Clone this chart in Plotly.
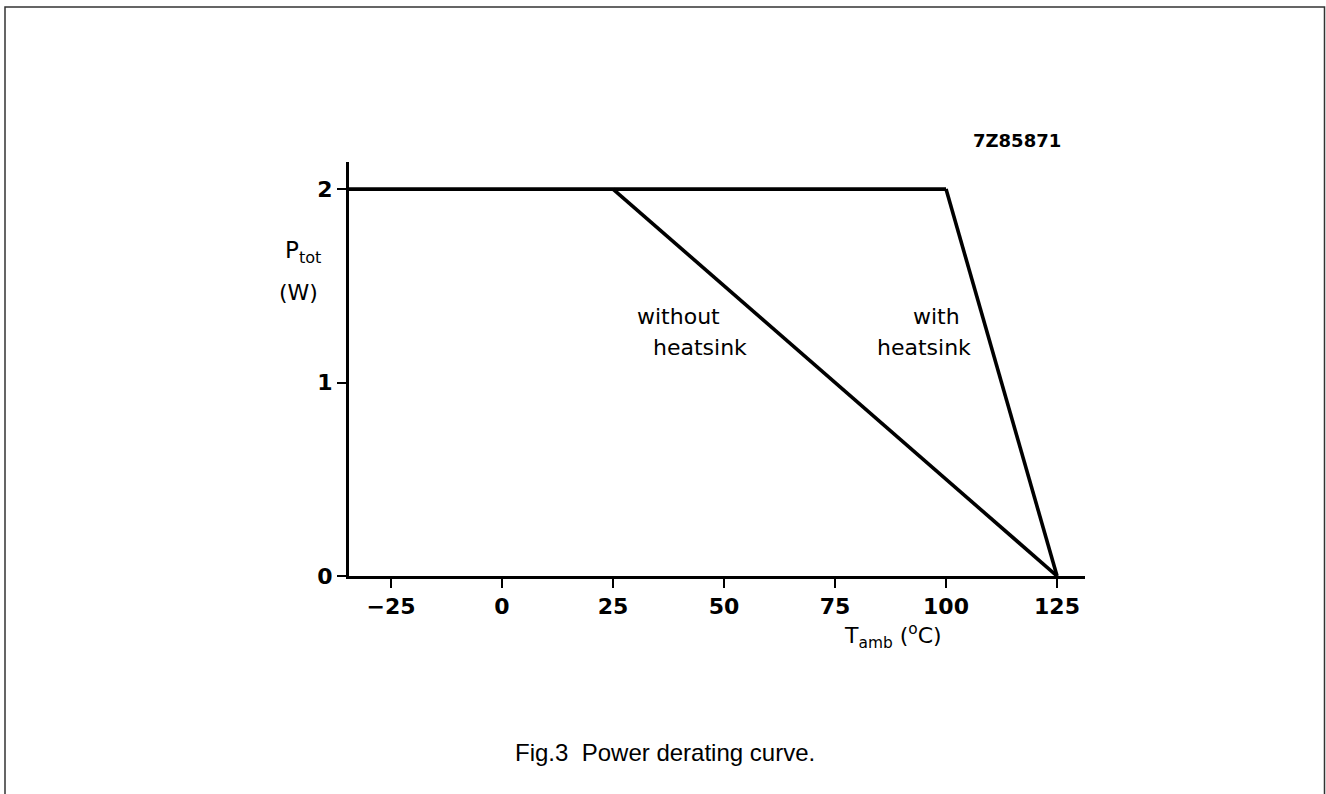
import plotly.graph_objects as go

# ---- data ----
x_ticks = [-25, 0, 25, 50, 75, 100, 125]
y_ticks = [0, 1, 2]
flat_x = [-34.5, 100]
flat_y = [2, 2]
without_x = [25, 125]
without_y = [2, 0]
with_x = [100, 125]
with_y = [2, 0]

W, H = 1326, 794
L, R, T, B = 349, 241, 162, 218
PW, PH = W - L - R, H - T - B


def px(x, y):
    return (x - L) / PW, (H - B - y) / PH


fig = go.Figure()
line = dict(color="black", width=3.6)
for xs, ys in [(flat_x, flat_y), (without_x, without_y), (with_x, with_y)]:
    fig.add_trace(go.Scatter(x=xs, y=ys, mode="lines", line=line,
                             cliponaxis=False, showlegend=False, hoverinfo="skip"))

tickfont = dict(family="DejaVu Sans", size=22, color="black", weight="bold")
fig.update_xaxes(range=[-34.46, 131.3], tickvals=x_ticks, showline=True, linecolor="black",
                 linewidth=3, ticks="outside", ticklen=9, tickwidth=2, tickcolor="black",
                 showgrid=False, zeroline=False, tickfont=tickfont)
fig.update_yaxes(range=[0, 2.14], tickvals=y_ticks, showline=True, linecolor="black",
                 linewidth=3, ticks="outside", ticklen=9, tickwidth=2, tickcolor="black",
                 showgrid=False, zeroline=False, tickfont=tickfont)

lab = dict(family="DejaVu Sans", size=22, color="black")
annots = [
    ("7Z85871", 1017, 140, "center", dict(family="DejaVu Sans", size=18, color="black", weight="bold")),
    ("P<sub>tot</sub>", 323, 252, "right", dict(family="DejaVu Sans", size=23, color="black")),
    ("(W)", 320, 292, "right", lab),
    ("without", 678, 316, "center", lab),
    ("heatsink", 700, 347, "center", lab),
    ("with", 936, 316, "center", lab),
    ("heatsink", 924, 347, "center", lab),
    ("T<sub>amb</sub> (<sup>o</sup>C)", 893, 636, "center", lab),
    ("Fig.3  Power derating curve.", 665, 752, "center",
     dict(family="Liberation Sans", size=24, color="black")),
]
for text, ax, ay, xa, f in annots:
    xp, yp = px(ax, ay)
    fig.add_annotation(text=text, x=xp, y=yp, xref="paper", yref="paper",
                       xanchor=xa, yanchor="middle", showarrow=False, font=f)

x0, y0 = px(5, 7)
x1, y1 = px(1324.5, 800)
fig.add_shape(type="rect", xref="paper", yref="paper", x0=x0, x1=x1, y0=y1, y1=y0,
              line=dict(color="#333333", width=1.5), fillcolor="rgba(0,0,0,0)")

fig.update_layout(width=W, height=H, margin=dict(l=L, r=R, t=T, b=B),
                  paper_bgcolor="white", plot_bgcolor="white")

fig.write_html("out.html", config={"displayModeBar": False},
               post_script="document.body.style.margin='0';document.body.style.overflow='hidden';"
                           "document.documentElement.style.overflow='hidden';")
